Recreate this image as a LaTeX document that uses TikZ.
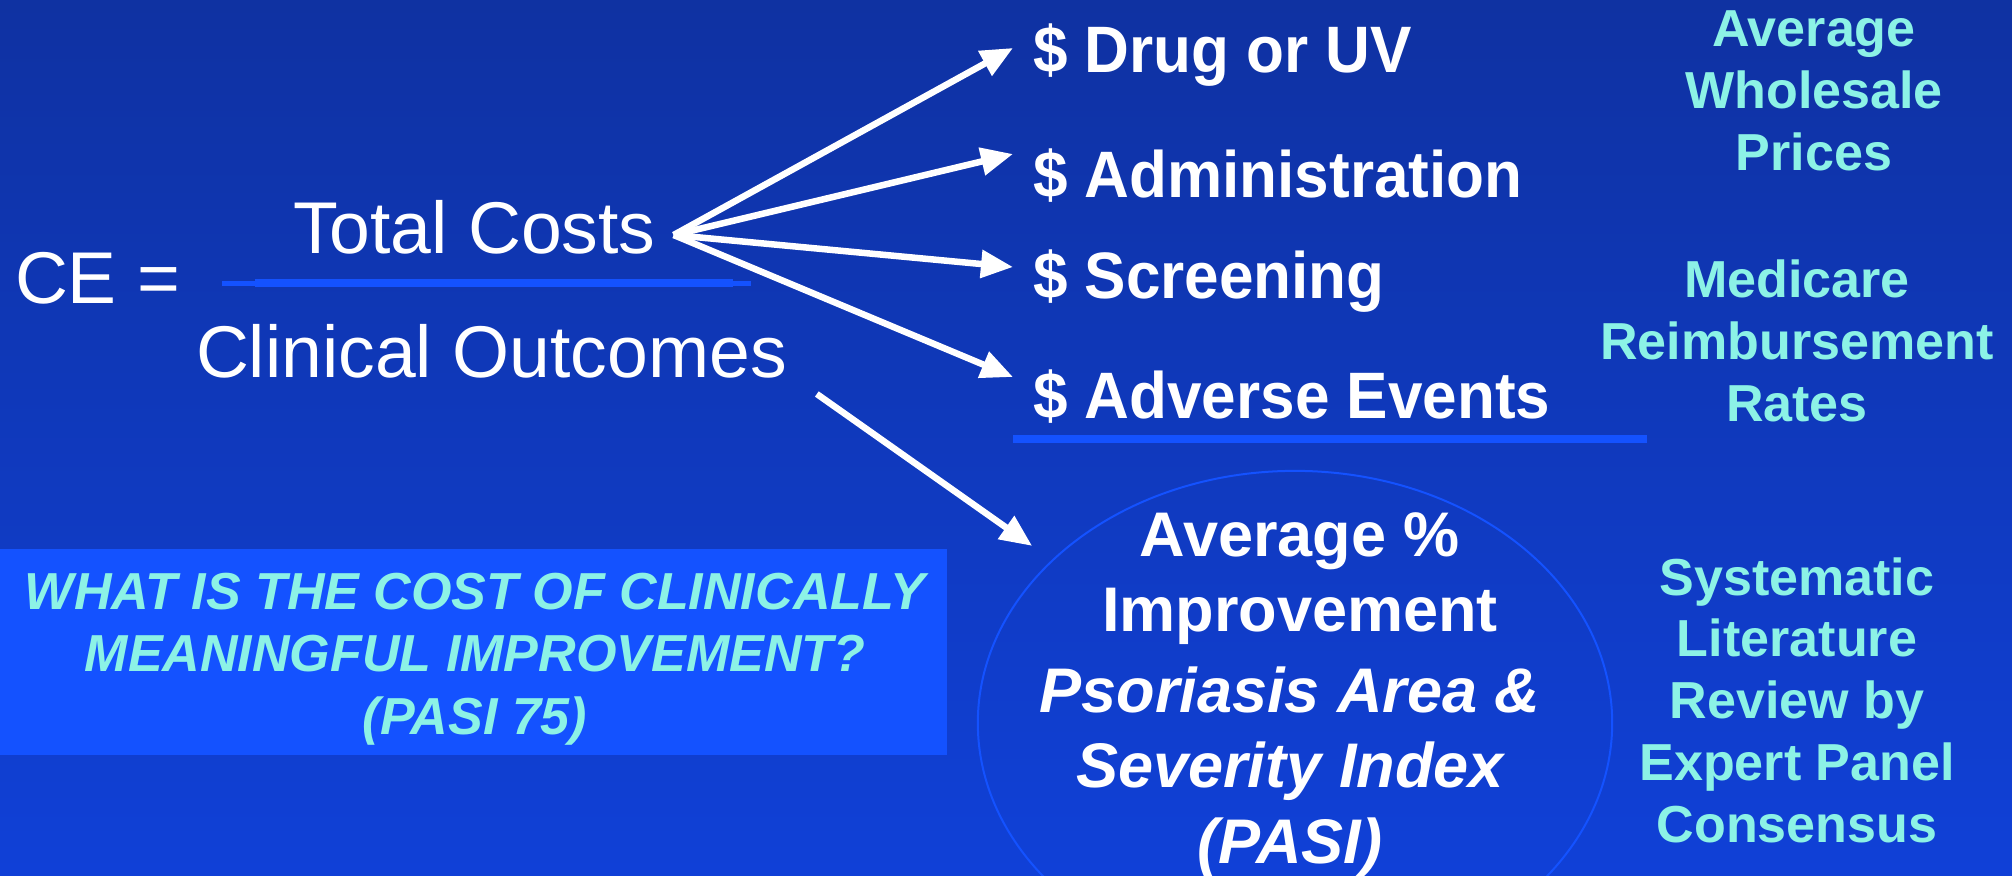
\documentclass[tikz,border=0pt]{standalone}
\usepackage{fontspec}
\setmainfont{Liberation Sans}
\newfontfamily\costfont[FakeStretch=0.945]{Liberation Sans}
\usetikzlibrary{arrows.meta,shapes.geometric}
\definecolor{bgtop}{RGB}{14,42,135}
\definecolor{bgbottom}{RGB}{17,72,242}
\definecolor{lineblue}{RGB}{20,82,255}
\definecolor{aqua}{RGB}{140,242,230}
\pgfdeclareverticalshading{slideshade}{100bp}{color(0bp)=(bgbottom); color(100bp)=(bgtop)}

\begin{document}
\begin{tikzpicture}[x=0.01cm, y=-0.01cm,
    every node/.style={inner sep=0pt, outer sep=0pt, text=white},
    big/.style={anchor=base west, font=\fontsize{20.85}{24}\selectfont},
    cost/.style={anchor=base west, font=\costfont\bfseries\fontsize{18.67}{22}\selectfont},
    srcnote/.style={anchor=base, align=center, text=aqua, font=\bfseries\fontsize{14.8}{17.56}\selectfont},
    costarrow/.style={draw=white, line width=0.065cm, -{Triangle[length=0.32cm,width=0.27cm]}}]
    \useasboundingbox (0,0) rectangle (2012,875);
    \shade[shading=slideshade] (0,0) rectangle (2012,875);
    \fill[lineblue] (0,549) rectangle (947,755);
    \node[ellipse, draw=lineblue, line width=0.02cm, minimum width=6.34cm, minimum height=5.04cm] (pasi) at (1295,723) {};

    \node[big] (ce) at (15,303) {CE =};
    \node[big] (total) at (293,253) {Total Costs};
    \node[big] (outcomes) at (196,377) {Clinical Outcomes};
    \draw[lineblue, line width=0.05cm] (222,283) -- (751,283);
    \draw[lineblue, line width=0.08cm] (255,283) -- (733,283);
    \coordinate (fork) at ([shift={(18,-18)}]total.base east);

    \node[cost] (drug) at (1033,72) {\$ Drug or UV};
    \node[cost] (admin) at (1033,197) {\$ Administration};
    \node[cost] (screen) at (1033,298) {\$ Screening};
    \node[cost] (adverse) at (1033,418) {\$ Adverse Events};
    \draw[lineblue, line width=0.08cm] (1013,439) -- (1647,439);

    \draw[costarrow] (fork) -- ([shift={(-20,-24)}]drug.base west);
    \draw[costarrow] (fork) -- ([shift={(-20,-43)}]admin.base west);
    \draw[costarrow] (fork) -- ([shift={(-20,-31)}]screen.base west);
    \draw[costarrow] (fork) -- ([shift={(-20,-41)}]adverse.base west);
    \draw[costarrow] ([shift={(30,17)}]outcomes.base east) -- ([shift={(-21,-14)}]pasi.146.5);

    % multi-line nodes sit on their last baseline
    \node[anchor=base, align=center, font=\bfseries\fontsize{17.93}{21.34}\selectfont] (pasitext) at (1290,863)
        {\hspace*{0.2cm}Average \%\\\hspace*{0.2cm}Improvement\\[0.06cm]{\itshape Psoriasis Area \&}\\{\itshape Severity Index}\\{\itshape (PASI)}};
    \node[anchor=base, align=center, text=aqua, font=\bfseries\itshape\fontsize{14.8}{17.64}\selectfont] (question) at (475,734)
        {WHAT IS THE COST OF CLINICALLY\\MEANINGFUL IMPROVEMENT?\\(PASI 75)};

    \node[srcnote] (awp) at (1814,170) {Average\\Wholesale\\Prices};
    \node[srcnote] (medicare) at (1797,421) {Medicare\\Reimbursement\\Rates};
    \node[srcnote] (review) at (1797,842) {Systematic\\Literature\\Review by\\Expert Panel\\Consensus};
\end{tikzpicture}
\end{document}
